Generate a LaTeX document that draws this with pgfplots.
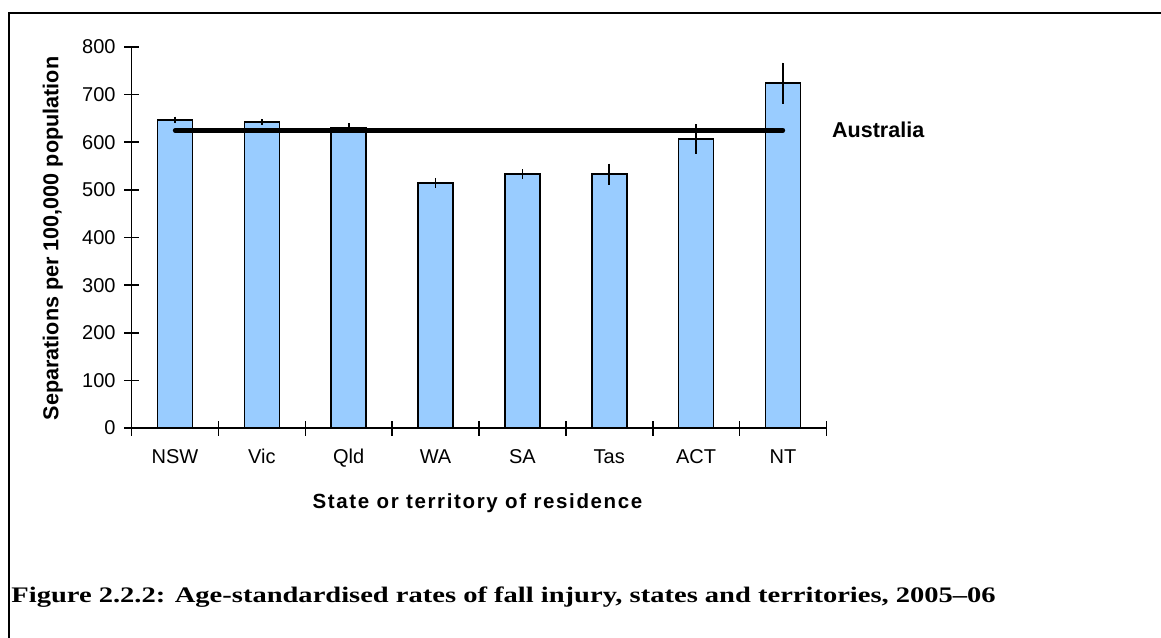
\documentclass[border=0pt]{standalone}
\usepackage{fontspec}
\setmainfont{Liberation Sans}
\newfontfamily\capfont[FakeStretch=1.285]{Liberation Serif}
\newfontfamily\labfont[LetterSpace=8]{Liberation Sans}
\usepackage{pgfplots}
\pgfplotsset{compat=1.18}
\definecolor{barblue}{HTML}{99CCFF}
\pgfplotstableread{
x y e
0 647 7
1 643 6
2 630 10
3 515 10
4 533 10
5 533 22
6 607 31
7 724 43
}\ratedata
\begin{document}
\begin{tikzpicture}
\path[use as bounding box] (0pt,0pt) rectangle (1161pt,-637pt);
\draw[line width=2.5pt] (9pt,-700pt) -- (9pt,-13pt) -- (1200pt,-13pt);
\begin{axis}[
  at={(131.6pt,-428pt)}, anchor=south west,
  scale only axis, width=694.8pt, height=381pt,
  xmin=-0.5, xmax=7.5, ymin=0, ymax=800,
  axis lines*=left,
  axis line style={line width=1.6pt},
  ytick={0,100,...,800},
  xtick={-0.5,0.5,...,7.5}, xticklabels={},
  extra x ticks={0,1,2,3,4,5,6,7},
  extra x tick labels={NSW,Vic,Qld,WA,SA,Tas,ACT,NT},
  extra x tick style={major tick length=0pt, tick style={draw=none},
    xticklabel style={anchor=north, text height=14.3pt, text depth=4.2pt, yshift=-18pt}},
  tick align=center, major tick length=15pt,
  tick style={line width=1.6pt, black},
  tick label style={font=\fontsize{20}{24}\selectfont},
  yticklabel style={xshift=-5pt},
  /pgf/number format/assume math mode=true,
  clip=false,
]
\addplot[ybar, bar width=35pt, fill=barblue, draw=black, line width=1.6pt,
  error bars/.cd, y dir=both, y explicit, error mark=none,
  error bar style={line width=1.6pt, black}]
  table[x=x, y=y, y error=e] {\ratedata};
\addplot[line width=4.3pt, line cap=round, black] coordinates {(0,625) (7,625)};
\end{axis}
\node[rotate=90, anchor=base, font=\bfseries\fontsize{21.6}{26}\selectfont] at (58.3pt,-238.5pt) {Separations per 100,000 population};
\node[anchor=base, font=\fontsize{20.5}{25}\selectfont] at (477.5pt,-508pt) {\labfont\bfseries State or territory of residence};
\node[anchor=base west, inner sep=0pt, font=\bfseries\fontsize{21.5}{25}\selectfont] at (832pt,-137.3pt) {Australia};
\node[anchor=base west, inner sep=0pt, font=\fontsize{22.2}{26}\selectfont] at (11.2pt,-602.7pt) {\capfont\bfseries Figure 2.2.2: Age-standardised rates of fall injury, states and territories, 2005–06};
\end{tikzpicture}
\end{document}
